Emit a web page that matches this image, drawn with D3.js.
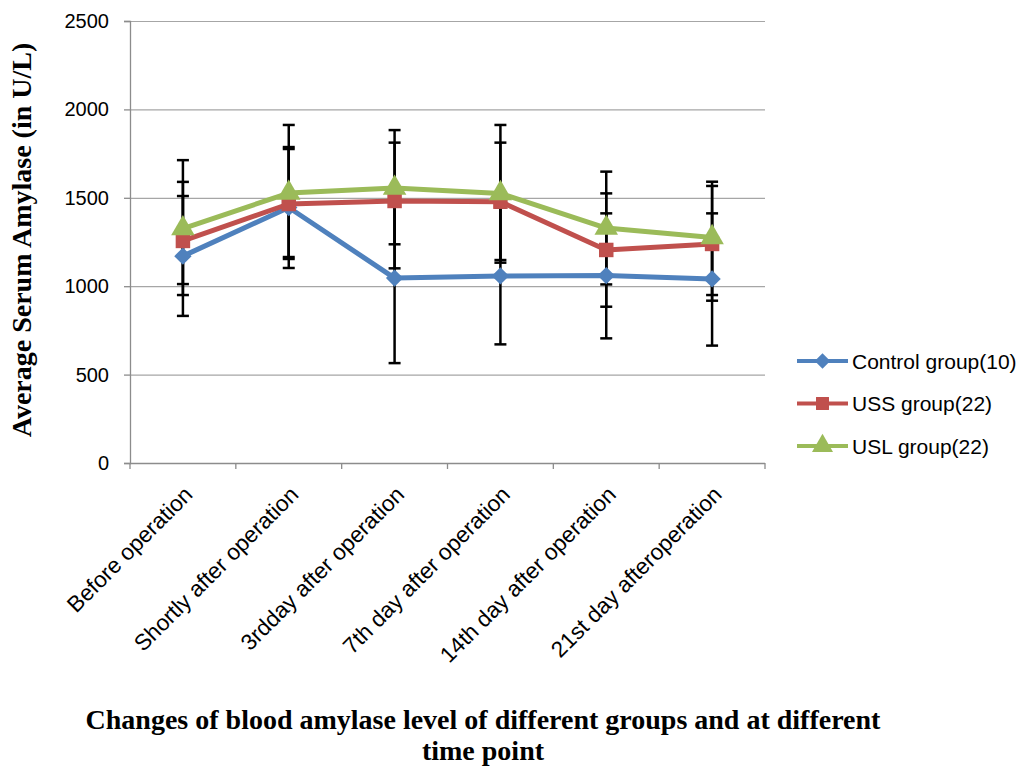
<!DOCTYPE html>
<html>
<head>
<meta charset="utf-8">
<script src="https://cdn.jsdelivr.net/npm/d3@7"></script>
<style>
  body { margin: 0; background: #fff; }
  svg { display: block; }
</style>
</head>
<body>
<svg class="chart"></svg>
<script>
// categories along the x axis
var categories = ["Before operation", "Shortly after operation", "3rdday after operation",
                  "7th day after operation", "14th day after operation", "21st day afteroperation"];

var seriesNames = ["Control group(10)", "USS group(22)", "USL group(22)"];

// mean values
var controlMean = [1170, 1445, 1046, 1058, 1060, 1041];
var ussMean     = [1256, 1465, 1482, 1478, 1205, 1239];
var uslMean     = [1326, 1527, 1555, 1525, 1329, 1276];

// error bar ends (low / high)
var controlLow  = [832, 1103, 565, 671, 705, 664];
var controlHigh = [1510, 1787, 1527, 1445, 1412, 1412];
var ussLow      = [1012, 1154, 1101, 1148, 884, 918];
var ussHigh     = [1590, 1776, 1812, 1812, 1525, 1567];
var uslLow      = [950, 1165, 1237, 1133, 1010, 950];
var uslHigh     = [1713, 1912, 1883, 1912, 1648, 1591];

var yTicks = [0, 500, 1000, 1500, 2000, 2500];

var colors = ["#4F81BD", "#C0504D", "#9BBB59"];
// diamond = square turned 45 degrees
var shapes = [d3.symbolSquare, d3.symbolSquare, d3.symbolTriangle];
var shapeTurn = [45, 0, 0];
var shapeSizes = [150, 210, 240];

var series = [
  {name: seriesNames[0], mean: controlMean, low: controlLow, high: controlHigh},
  {name: seriesNames[1], mean: ussMean, low: ussLow, high: ussHigh},
  {name: seriesNames[2], mean: uslMean, low: uslLow, high: uslHigh}
];

var screen = {width: 1024, height: 766};

var svg = d3.select(".chart")
            .attr("width", screen.width)
            .attr("height", screen.height);

var margins = {top: 21, left: 130, right: 259, bottom: 303};
var width = screen.width - margins.left - margins.right;
var height = screen.height - margins.top - margins.bottom;

var xScale = d3.scalePoint()
               .domain(categories)
               .range([0, width])
               .padding(0.5);
var step = xScale.step();

var yScale = d3.scaleLinear()
               .domain([0, 2500])
               .range([height, 0]);

var plotLand = svg.append("g")
                  .attr("transform", "translate(" + margins.left + "," + margins.top + ")");

// gridlines
plotLand.append("g").selectAll("line")
        .data(yTicks.slice(1))
        .enter()
        .append("line")
        .attr("x1", 0).attr("x2", width)
        .attr("y1", function(d) {return yScale(d) + 0.5})
        .attr("y2", function(d) {return yScale(d) + 0.5})
        .attr("stroke", "#a6a6a6")
        .attr("stroke-width", 1.2);

// y axis
var yAxis = d3.axisLeft(yScale).tickValues(yTicks).tickFormat(d3.format("d")).tickSize(6).tickPadding(15);
var yG = plotLand.append("g").classed("yAxis", true).call(yAxis);
yG.select(".domain").attr("stroke", "#8c8c8c").attr("stroke-width", 1.3);
yG.selectAll(".tick line").attr("stroke", "#8c8c8c").attr("stroke-width", 1.3);
yG.selectAll("text")
  .style("font-family", "'Liberation Sans', Arial, sans-serif")
  .style("font-size", "20px")
  .attr("fill", "#000");

// x axis: line with ticks between categories
var xG = plotLand.append("g").attr("transform", "translate(0," + height + ")");
xG.append("line")
  .attr("x1", 0).attr("x2", width)
  .attr("y1", 0.5).attr("y2", 0.5)
  .attr("stroke", "#8c8c8c").attr("stroke-width", 1.3);
xG.selectAll("line.tk")
  .data(d3.range(categories.length + 1))
  .enter()
  .append("line")
  .classed("tk", true)
  .attr("x1", function(i) {return i * step})
  .attr("x2", function(i) {return i * step})
  .attr("y1", 0).attr("y2", 6)
  .attr("stroke", "#8c8c8c").attr("stroke-width", 1.3);

xG.selectAll("text")
  .data(categories)
  .enter()
  .append("text")
  .attr("transform", function(d) {
    return "translate(" + (xScale(d) + 11) + "," + 33 + ") rotate(-45)";
  })
  .attr("text-anchor", "end")
  .style("font-family", "'Liberation Sans', Arial, sans-serif")
  .style("font-size", "22.5px")
  .text(function(d) {return d});

// error bars
series.forEach(function(s) {
  var g = plotLand.append("g").classed("errbars", true);
  categories.forEach(function(c, i) {
    var x = xScale(c);
    g.append("line")
     .attr("x1", x).attr("x2", x)
     .attr("y1", yScale(s.low[i])).attr("y2", yScale(s.high[i]))
     .attr("stroke", "#000").attr("stroke-width", 2.5);
    [s.low[i], s.high[i]].forEach(function(v) {
      g.append("line")
       .attr("x1", x - 6).attr("x2", x + 6)
       .attr("y1", yScale(v)).attr("y2", yScale(v))
       .attr("stroke", "#000").attr("stroke-width", 2.5);
    });
  });
});

// lines and markers
var line = d3.line()
             .x(function(d, i) {return xScale(categories[i])})
             .y(function(d) {return yScale(d)});

series.forEach(function(s, k) {
  plotLand.append("path")
          .datum(s.mean)
          .attr("d", line)
          .attr("fill", "none")
          .attr("stroke", colors[k])
          .attr("stroke-width", 5)
          .attr("stroke-linejoin", "round");
  plotLand.append("g").selectAll("path")
          .data(s.mean)
          .enter()
          .append("path")
          .attr("transform", function(d, i) {
            return "translate(" + xScale(categories[i]) + "," + yScale(d) + ") rotate(" + shapeTurn[k] + ")";
          })
          .attr("d", d3.symbol().type(shapes[k]).size(shapeSizes[k]))
          .attr("fill", colors[k]);
});

// legend
var legend = svg.append("g").attr("transform", "translate(797,361)");
var legendLines = legend.selectAll("g")
                        .data(series)
                        .enter()
                        .append("g")
                        .attr("transform", function(d, i) {return "translate(0," + (i * 42.5) + ")"});
legendLines.append("line")
           .attr("x1", 0).attr("x2", 51)
           .attr("y1", 0).attr("y2", 0)
           .attr("stroke", function(d, i) {return colors[i]})
           .attr("stroke-width", 4);
legendLines.append("path")
           .attr("transform", function(d, i) {return "translate(25.5,0) rotate(" + shapeTurn[i] + ")"})
           .attr("d", function(d, i) {return d3.symbol().type(shapes[i]).size(shapeSizes[i] * 0.8)()})
           .attr("fill", function(d, i) {return colors[i]});
legendLines.append("text")
           .attr("x", 55)
           .attr("y", 7.5)
           .style("font-family", "'Liberation Sans', Arial, sans-serif")
           .style("font-size", "21px")
           .text(function(d) {return d.name});

// y axis title
svg.append("text")
   .attr("transform", "translate(31,240) rotate(-90)")
   .attr("text-anchor", "middle")
   .style("font-family", "'Liberation Serif', 'Times New Roman', serif")
   .style("font-weight", "bold")
   .style("font-size", "28px")
   .text("Average Serum Amylase (in U/L)");

// chart caption
var caption = svg.append("text")
   .attr("text-anchor", "middle")
   .style("font-family", "'Liberation Serif', 'Times New Roman', serif")
   .style("font-weight", "bold")
   .style("font-size", "28px");
caption.append("tspan").attr("x", 483).attr("y", 729)
       .text("Changes of blood amylase level of different groups and at different");
caption.append("tspan").attr("x", 483).attr("y", 760)
       .text("time point");
</script>
</body>
</html>
